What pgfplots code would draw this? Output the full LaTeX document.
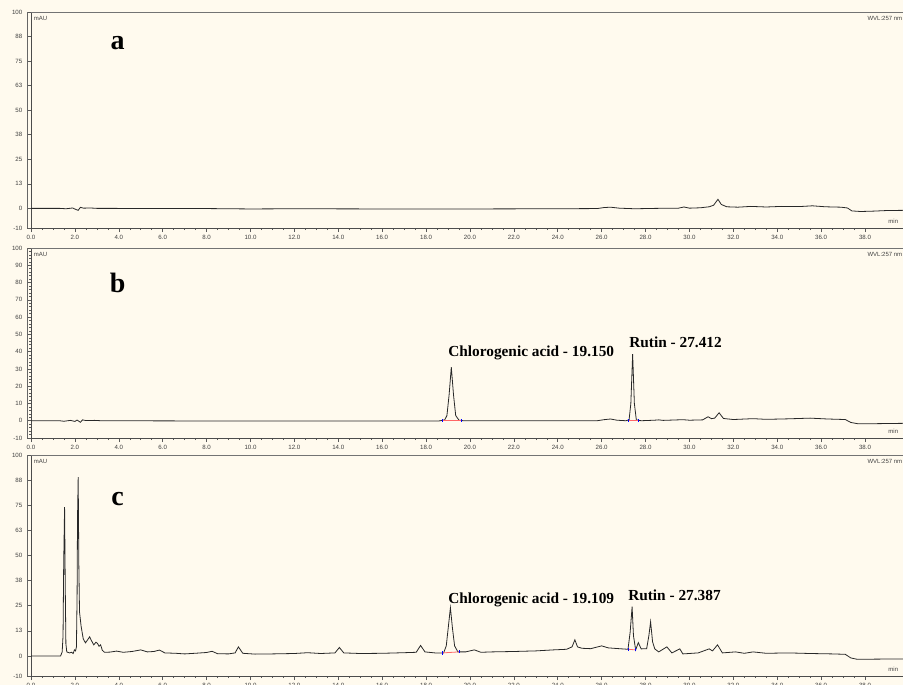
\documentclass[border=0pt]{standalone}
\usepackage{fontspec}
\setmainfont{Liberation Serif}
\newfontfamily\sansf{Liberation Sans}
\usepackage{pgfplots}
\pgfplotsset{compat=1.18}
\definecolor{cream}{RGB}{255,250,238}
\definecolor{trace}{RGB}{40,40,40}
\pgfplotsset{
  chrom/.style={
    scale only axis, width=654pt, xmin=0, xmax=39.73, ymin=-10, ymax=100,
    anchor=north west,
    axis x line*=bottom, axis y line*=left,
    axis line style={draw=black!70, line width=0.5pt, -},
    xtick={0,2,...,38},
    xticklabels={0.0,2.0,4.0,6.0,8.0,10.0,12.0,14.0,16.0,18.0,20.0,22.0,24.0,26.0,28.0,30.0,32.0,34.0,36.0,38.0},
    minor x tick num=3,
    tick align=outside, major tick length=3pt, minor tick length=1.5pt,
    tick style={black!65, line width=0.4pt},
    ticklabel style={font=\sansf\fontsize{4.6}{5}\selectfont, text=black!75},
    /pgf/number format/assume math mode=true,
    xticklabel style={yshift=1pt},
    cycle list={{trace, line width=0.6pt, sharp plot, no marks}},
    after end axis/.code={
      \draw[black!55, line width=0.5pt] (rel axis cs:0,1) -- (rel axis cs:1,1);
      \draw[black!60, line width=0.4pt] ([xshift=-3pt]rel axis cs:0,0) -- ([xshift=-3pt]rel axis cs:0,1);
      \node[anchor=north west, inner sep=0pt, font=\sansf\fontsize{4.5}{5}\selectfont, text=black!75] at ([xshift=2pt,yshift=-3pt]rel axis cs:0,1) {mAU};
      \node[anchor=north west, inner sep=0pt, font=\sansf\fontsize{4.5}{5}\selectfont, text=black!75] at ([yshift=-3pt]rel axis cs:0.959,1) {WVL:257 nm};
      \node[anchor=south west, inner sep=0pt, font=\sansf\fontsize{4.5}{5}\selectfont, text=black!75] at ([yshift=3pt]rel axis cs:0.983,0) {min};
    },
  },
  ytickA/.style={ytick={-10,0,12.5,25,37.5,50,62.5,75,87.5,100},
    yticklabels={-10,0,13,25,38,50,63,75,88,100}, minor y tick num=4},
  ytickB/.style={ytick={-10,0,10,20,30,40,50,60,70,80,90,100}, minor y tick num=4},
}
\begin{document}
\begin{tikzpicture}
\useasboundingbox (0,0) rectangle (677.25pt,-513.75pt);
\fill[cream] (0,0) rectangle (677.25pt,-513.75pt);
\clip (0,0) rectangle (677.25pt,-513.75pt);

% ---------- panel a ----------
\begin{axis}[chrom, ytickA, at={(23.25pt,-9pt)}, height=162pt]
\addplot[trace, line width=0.6pt, sharp plot, no marks] coordinates {(0,0)(1.3,0)(1.6,-0.2)(1.9,0.2)(2.05,-0.6)(2.15,-1.0)(2.25,0.5)(2.4,0.1)(2.7,0.2)(3.0,0)(8,-0.1)(10,-0.3)(12,-0.2)(16,-0.3)(20,-0.3)(24,-0.2)(25.8,-0.1)(26.1,0.4)(26.4,0.6)(26.8,0.1)(27.5,-0.2)(28.5,0)(29.5,0.1)(29.75,0.7)(30.0,0.1)(30.5,0.3)(30.9,0.8)(31.1,1.6)(31.3,4.6)(31.45,2.0)(31.7,0.8)(32.2,0.6)(32.8,1.0)(33.5,0.7)(34.2,1.0)(35.0,0.9)(35.6,1.3)(36.2,0.8)(36.9,0.6)(37.2,0.2)(37.4,-1.3)(37.8,-1.6)(38.4,-1.4)(39,-1.1)(39.8,-1.0)};
\node[inner sep=0pt, font=\fontsize{21}{22}\selectfont\bfseries] at (axis cs:3.95,84.4) {a};
\end{axis}

% ---------- panel b ----------
\begin{axis}[chrom, ytickB, at={(23.25pt,-186pt)}, height=142.5pt]
\addplot[trace, line width=0.6pt, sharp plot, no marks] coordinates {(0,0)(1.3,0)(1.5,-0.3)(1.8,0.2)(2.0,-0.4)(2.1,0.4)(2.25,-0.9)(2.35,0.5)(2.5,0.1)(2.9,0.2)(3.2,0)(10,-0.2)(16,-0.2)(18.6,-0.1)(18.85,0.5)(18.95,3)(19.05,15)(19.15,31)(19.25,15)(19.35,3)(19.5,0.3)(19.7,0)(22,0)(25.8,0)(26.1,0.6)(26.4,1.0)(26.7,0.3)(27.1,0)(27.25,0.5)(27.33,10)(27.412,38.5)(27.49,10)(27.58,0.5)(27.8,0)(28.4,0.3)(28.6,0.5)(28.8,0.2)(29.7,0.6)(30.0,0.3)(30.6,0.5)(30.85,2.3)(31.0,1.2)(31.15,1.5)(31.35,4.6)(31.55,1.3)(32,0.7)(32.9,1.2)(33.5,0.8)(34.5,1.1)(35.5,1.5)(36.3,1.0)(37.1,0.7)(37.35,-1.0)(37.7,-1.8)(38.5,-1.7)(39.8,-1.5)};
\addplot[red!60, line width=0.6pt, no marks] coordinates {(18.75,0)(19.6,0)};
\addplot[red!60, line width=0.6pt, no marks] coordinates {(27.2,0)(27.65,0)};
\addplot[blue, only marks, mark=|, mark size=1.2pt, line width=0.4pt] coordinates {(18.75,0)(19.6,0)(27.2,0)(27.65,0)};
\node[inner sep=0pt, font=\fontsize{21}{22}\selectfont\bfseries] at (axis cs:3.95,79.5) {b};
\node[anchor=west, inner sep=0pt, font=\fontsize{11.5}{12}\selectfont\bfseries] at (axis cs:19.0,39) {Chlorogenic acid - 19.150};
\node[anchor=west, inner sep=0pt, font=\fontsize{11.5}{12}\selectfont\bfseries] at (axis cs:27.25,45.5) {Rutin - 27.412};
\end{axis}

% ---------- panel c ----------
\begin{axis}[chrom, ytickA, at={(23.25pt,-341.25pt)}, height=165.75pt]
\addplot[trace, line width=0.6pt, sharp plot, no marks] coordinates {(0,0)(1.35,0)(1.42,2)(1.46,10)(1.49,46)(1.53,74)(1.56,35)(1.59,6)(1.63,2)(1.75,1.5)(1.85,1.8)(1.92,1.2)(1.98,3)(2.03,2.5)(2.07,4.5)(2.1,30)(2.12,69)(2.15,89)(2.18,45)(2.21,22)(2.28,15)(2.38,8.5)(2.48,6.5)(2.58,8)(2.67,9.5)(2.76,7.5)(2.86,5.5)(2.96,6.8)(3.03,6.2)(3.1,4.8)(3.17,5.5)(3.25,2.8)(3.35,1.8)(3.6,1.9)(3.9,2.4)(4.2,1.8)(4.6,2.2)(5.0,3.0)(5.3,2.0)(5.6,2.2)(5.85,2.9)(6.1,1.5)(6.6,1.3)(7.0,1.0)(7.6,1.4)(8.0,1.7)(8.25,2.3)(8.5,1.1)(9.0,1.0)(9.3,1.5)(9.45,4.5)(9.65,1.3)(10.2,0.9)(11,1.0)(12,1.2)(12.6,1.6)(13.2,1.2)(13.85,1.5)(14.05,4.2)(14.25,1.5)(15,1.2)(16,1.3)(17,1.6)(17.55,1.8)(17.75,5.2)(17.95,2.0)(18.4,1.5)(18.8,1.5)(18.92,5)(19.0,13)(19.109,24)(19.2,14)(19.3,5)(19.45,2)(19.8,2.0)(20.2,3.0)(20.5,1.8)(21.0,2.0)(22.0,2.2)(23.0,2.5)(23.8,3.0)(24.4,3.3)(24.65,4.5)(24.78,8)(24.9,4.5)(25.1,3.8)(25.5,3.6)(26.0,5.0)(26.3,4.0)(26.8,3.6)(27.2,3.3)(27.3,12)(27.387,24.5)(27.45,10)(27.55,3)(27.67,6.6)(27.8,3.5)(28.05,3.6)(28.15,10)(28.23,17)(28.32,7)(28.42,3.5)(28.6,2)(28.97,4.5)(29.2,1.5)(29.56,3.5)(29.7,1.0)(30.4,1.5)(30.9,3.5)(31.05,2.5)(31.28,5.5)(31.5,1.5)(32.1,2.0)(32.5,1.3)(32.9,2.0)(33.5,1.3)(34.5,1.5)(35.5,1.2)(36.5,1.0)(37.1,0.8)(37.35,-1.0)(37.65,-1.7)(38.5,-1.6)(39.8,-1.5)};
\addplot[red!60, line width=0.6pt, no marks] coordinates {(18.75,1.5)(19.5,2)};
\addplot[red!60, line width=0.6pt, no marks] coordinates {(27.2,3.3)(27.55,3)};
\addplot[blue, only marks, mark=|, mark size=1.2pt, line width=0.4pt] coordinates {(18.75,1.5)(19.5,2)(27.2,3.3)(27.55,3)};
\node[inner sep=0pt, font=\fontsize{21}{22}\selectfont\bfseries] at (axis cs:3.95,78) {c};
\node[anchor=west, inner sep=0pt, font=\fontsize{11.5}{12}\selectfont\bfseries] at (axis cs:19.0,27.9) {Chlorogenic acid - 19.109};
\node[anchor=west, inner sep=0pt, font=\fontsize{11.5}{12}\selectfont\bfseries] at (axis cs:27.2,30.3) {Rutin - 27.387};
\end{axis}
\end{tikzpicture}
\end{document}
